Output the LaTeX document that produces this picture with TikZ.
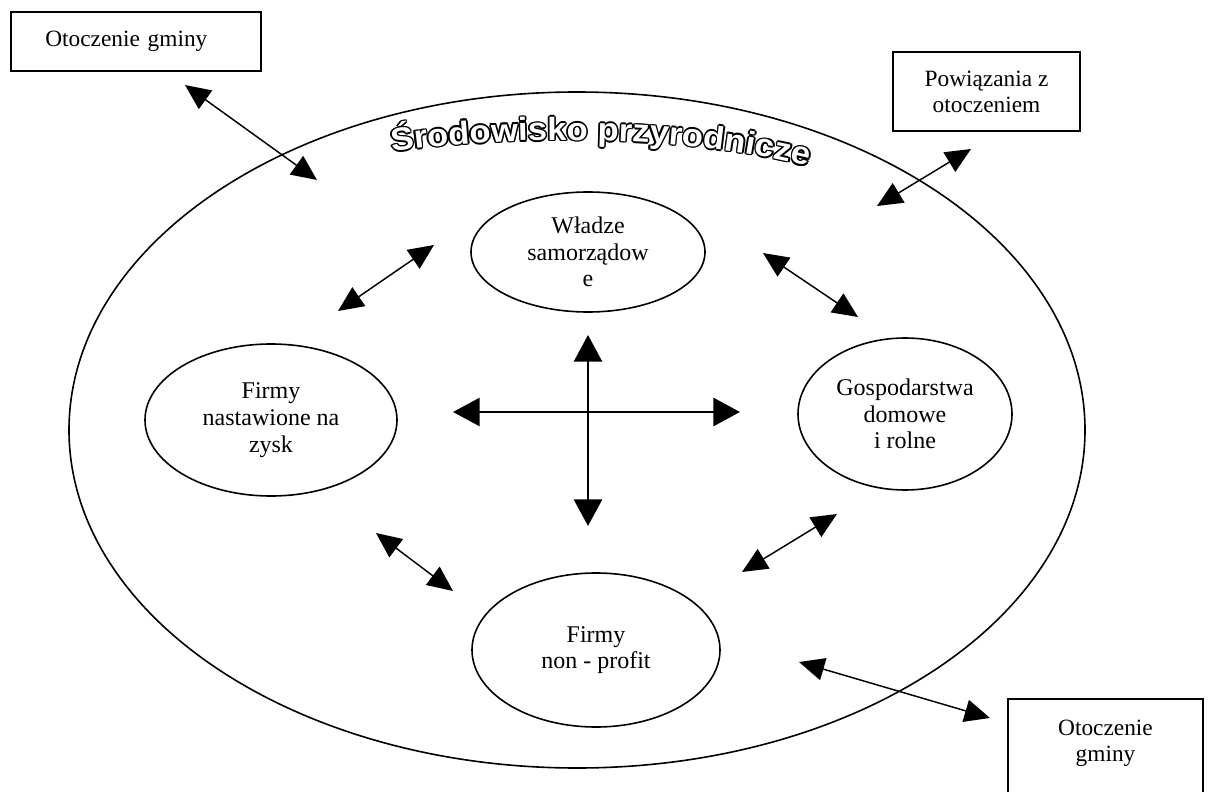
\documentclass[tikz,border=0pt]{standalone}
\usepackage{fontspec}
\setmainfont{Liberation Serif}
\newfontfamily\wordartfont[FakeStretch=1.08]{Liberation Sans}
\usetikzlibrary{shapes.geometric,arrows.meta,decorations.text}

\begin{document}
\begin{tikzpicture}[
  x=0.75pt, y=-0.75pt,
  line width=1.2pt,
  area/.style={draw, ellipse, inner sep=0pt},
  sector/.style={draw, ellipse, inner sep=0pt, align=center, font=\fontsize{18}{20}\selectfont},
  environ/.style={draw, rectangle, align=center, font=\fontsize{17.5}{19.5}\selectfont},
  link/.style={{Triangle[length=19pt,width=17pt]}-{Triangle[length=19pt,width=17pt]}, line width=1.1pt},
  flow/.style={{Triangle[length=20pt,width=21pt]}-{Triangle[length=20pt,width=21pt]}, line width=2.2pt}
  ]
  \useasboundingbox (0,0) rectangle (1211,792);
  \clip (0,0) rectangle (1211,792);

  % Nodes
  \node (srodowisko) [area, minimum width=762pt, minimum height=507pt] at (577,430) {};
  \node (otoczenie_gora) [environ, align=left, text width=136pt, inner xsep=25.75pt, minimum height=44pt] at (136,41.5) {Otoczenie gminy};
  \node (powiazania) [environ, minimum width=140pt, minimum height=59pt] at (986.5,91.5) {Powiązania z\\otoczeniem};
  \node (otoczenie_dol) [environ, anchor=north, minimum width=146pt, inner ysep=16pt, text depth=60pt] at (1105.5,698) {Otoczenie\\gminy};
  \node (wladze) [sector, minimum width=175.5pt, minimum height=90pt] at (588,252) {Władze\\samorządow\\e};
  \node (firmy_zysk) [sector, minimum width=189pt, minimum height=114pt] at (271,420) {Firmy\\nastawione na\\zysk};
  \node (gospodarstwa) [sector, minimum width=160.5pt, minimum height=114pt] at (905,414) {Gospodarstwa\\domowe\\i rolne};
  \node (non_profit) [sector, minimum width=186pt, minimum height=115.5pt] at (596,650) {Firmy\\non - profit};

  % Title on the arc
  \foreach \dx/\dy in {1.2/0, -1.2/0, 0/1.2, 0/-1.2, 0.85/0.85, -0.85/0.85, 0.85/-0.85, -0.85/-0.85}
    \path[shift={(\dx pt,\dy pt)}, decorate, decoration={text along path, text align=center, text color=black,
      text={|\wordartfont\bfseries\fontsize{24}{24}\selectfont|Środowisko przyrodnicze}}]
      (372,155) .. controls (500,133) and (700,133) .. (828,172);
  \path[decorate, decoration={text along path, text align=center, text color=white,
    text={|\wordartfont\bfseries\fontsize{24}{24}\selectfont|Środowisko przyrodnicze}}]
    (372,155) .. controls (500,133) and (700,133) .. (828,172);

  % Arrow ends
  \coordinate (zg_out) at (185,85);   \coordinate (zg_in) at (317,180);
  \coordinate (pw_in) at (877,206);   \coordinate (pw_out) at (971,149);
  \coordinate (zd_in) at (799,662);   \coordinate (zd_out) at (990,718);
  \coordinate (wf_a) at (338,311);    \coordinate (wf_b) at (434,245);
  \coordinate (wg_a) at (763,253);    \coordinate (wg_b) at (858,317);
  \coordinate (fn_a) at (376,533);    \coordinate (fn_b) at (453,591);
  \coordinate (gn_a) at (742,572);    \coordinate (gn_b) at (837,514);
  \coordinate (mid_w) at (453,412);   \coordinate (mid_e) at (740,412);
  \coordinate (mid_n) at (588,335);   \coordinate (mid_s) at (588,526);

  % Connections
  \draw[link] (zg_out) -- (zg_in);
  \draw[link] (pw_in) -- (pw_out);
  \draw[link] (zd_in) -- (zd_out);
  \draw[link] (wf_a) -- (wf_b);
  \draw[link] (wg_a) -- (wg_b);
  \draw[link] (fn_a) -- (fn_b);
  \draw[link] (gn_a) -- (gn_b);
  \draw[flow] (mid_w) -- (mid_e);
  \draw[flow] (mid_n) -- (mid_s);

\end{tikzpicture}
\end{document}
